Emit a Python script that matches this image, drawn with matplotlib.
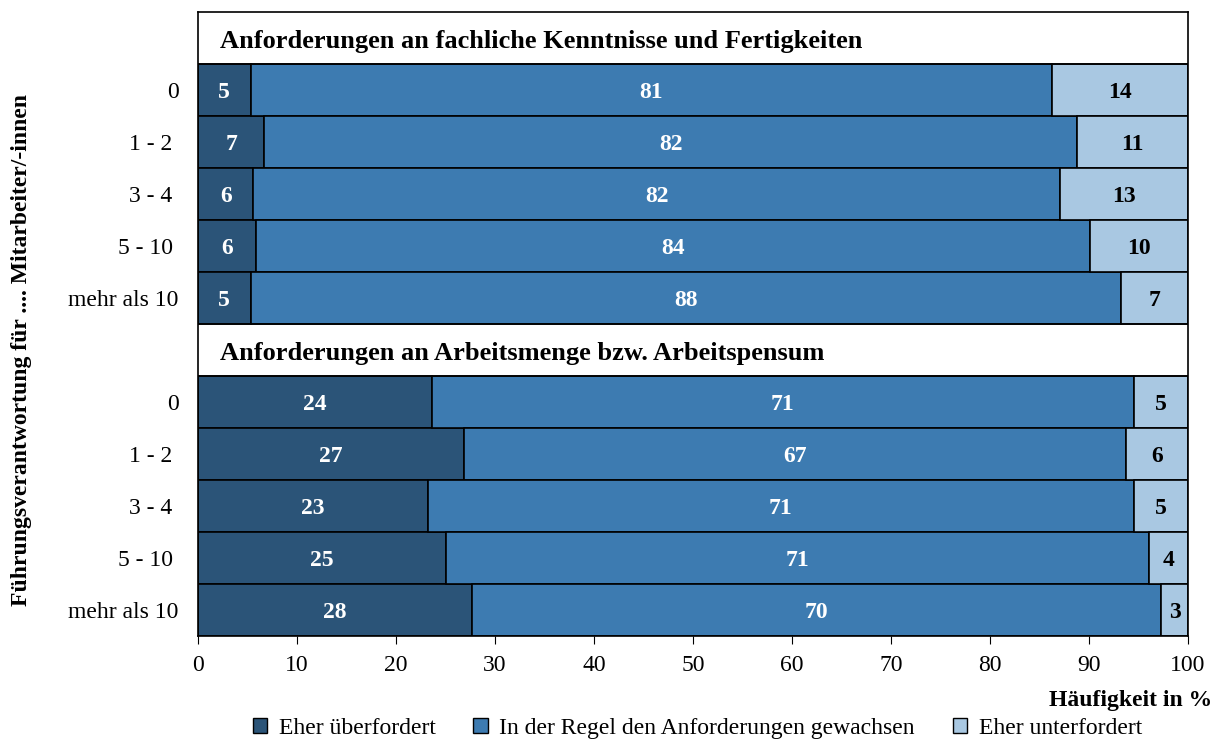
import matplotlib
matplotlib.use("Agg")
from matplotlib import pyplot as plt
from matplotlib.patches import Patch
import numpy as np

plt.rcParams['font.family'] = ['Liberation Serif', 'DejaVu Serif']

# data
groups = ['0', '1 - 2 ', '3 - 4 ', '5 - 10 ', 'mehr als 10']
sections = ['Anforderungen an fachliche Kenntnisse und Fertigkeiten',
            'Anforderungen an Arbeitsmenge bzw. Arbeitspensum']
series = ['Eher überfordert', 'In der Regel den Anforderungen gewachsen', 'Eher unterfordert']

# bar widths and printed labels
over_1 = [5.3, 6.7, 5.6, 5.9, 5.3]
ok_1 = [81.0, 82.1, 81.5, 84.2, 87.9]
under_1 = [13.7, 11.2, 12.9, 9.9, 6.8]
over_2 = [23.6, 26.9, 23.2, 25.0, 27.7]
ok_2 = [70.9, 66.8, 71.3, 71.1, 69.6]
under_2 = [5.5, 6.3, 5.5, 3.9, 2.7]

lab_over_1 = [5, 7, 6, 6, 5]
lab_ok_1 = [81, 82, 82, 84, 88]
lab_under_1 = [14, 11, 13, 10, 7]
lab_over_2 = [24, 27, 23, 25, 28]
lab_ok_2 = [71, 67, 71, 71, 70]
lab_under_2 = [5, 6, 5, 4, 3]

colors = ['#2b5478', '#3d7bb1', '#a9c8e2']
txt_colors = ['white', 'white', 'black']

fig = plt.figure(figsize=(12.15, 7.44), dpi=100)
ax = fig.add_axes([0.163, 0.1452, 0.8148, 0.8387])

blocks = [(1, [over_1, ok_1, under_1], [lab_over_1, lab_ok_1, lab_under_1]),
          (7, [over_2, ok_2, under_2], [lab_over_2, lab_ok_2, lab_under_2])]

for start, vals, labs in blocks:
    ypos = np.arange(start, start + len(groups))
    left = np.zeros(len(groups))
    for i in range(3):
        w = np.array(vals[i])
        bars = ax.barh(ypos, w, left=left, height=1.0, color=colors[i],
                       edgecolor='black', linewidth=1.2)
        for b, lab in zip(bars, labs[i]):
            ax.text(b.get_x() + b.get_width() / 2, b.get_y() + b.get_height() / 2 + 0.04,
                    str(lab), ha='center', va='center', color=txt_colors[i],
                    fontsize=17, fontweight='bold')
        left += w

# section headers
for row, title in zip([0, 6], sections):
    ax.text(2.2, row + 0.06, title, ha='left', va='center', fontsize=19,
            fontweight='bold')
for yl in [0.5, 5.5, 6.5]:
    ax.axhline(yl, color='black', linewidth=1.2)

ax.set_ylim(11.5, -0.5)
ax.set_xlim(0, 100)
ax.set_yticks(range(12))
ax.set_yticklabels([''] + groups + [''] + groups, fontsize=17)
ax.tick_params(axis='y', length=0, pad=14)
ax.set_xticks(range(0, 101, 10))
ax.tick_params(axis='x', labelsize=17, length=6, direction='out', pad=8)
for s in ax.spines.values():
    s.set_linewidth(1.2)

fig.text(0.998, 0.058, 'Häufigkeit in %', ha='right', va='center',
         fontsize=17, fontweight='bold')
fig.text(0.018, 0.53, 'Führungsverantwortung für .... Mitarbeiter/-innen',
         rotation=90, ha='center', va='center', fontsize=17, fontweight='bold')

handles = [Patch(facecolor=c, edgecolor='black', linewidth=1) for c in colors]
fig.legend(handles, series, loc='lower center', bbox_to_anchor=(0.574, -0.022),
           ncol=3, frameon=False, fontsize=17, handlelength=0.6,
           handleheight=0.6, columnspacing=1.6, handletextpad=0.5)

fig.savefig('out.png', dpi=100)
